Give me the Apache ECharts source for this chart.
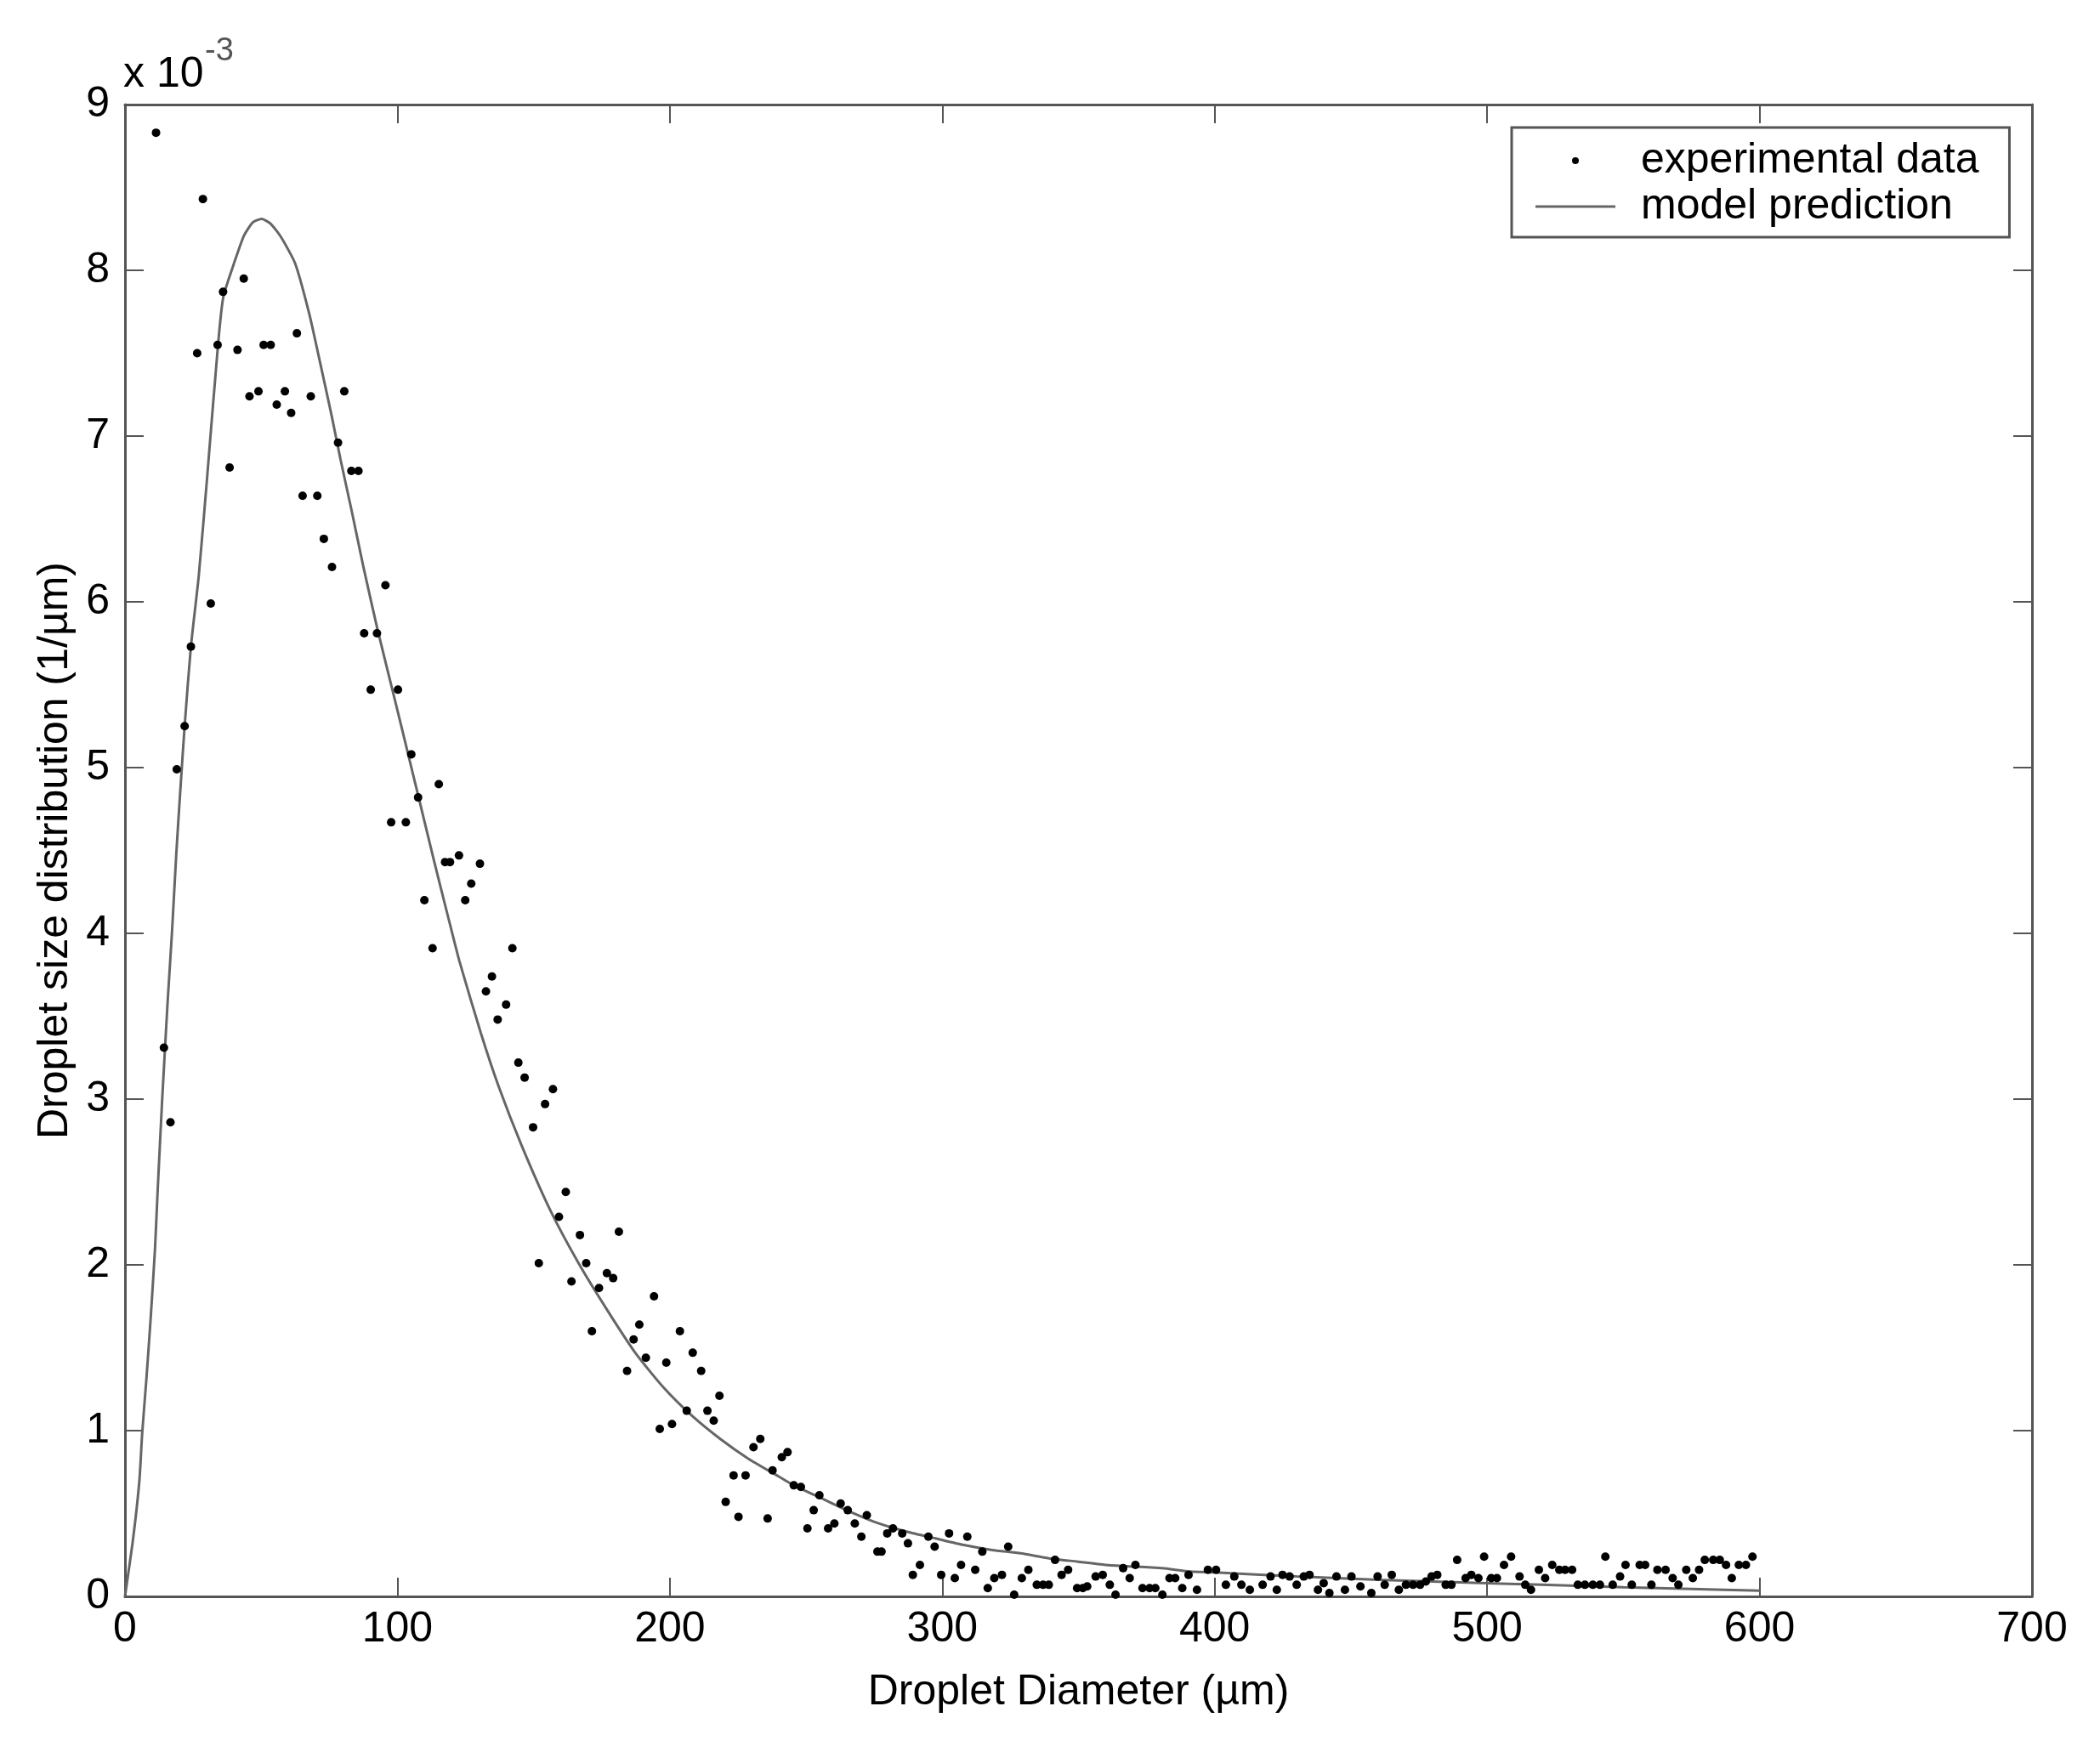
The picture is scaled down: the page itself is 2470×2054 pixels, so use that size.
<!DOCTYPE html>
<html>
<head>
<meta charset="utf-8">
<script src="https://cdn.jsdelivr.net/npm/echarts/dist/echarts.min.js"></script>
<style>
  html, body { margin: 0; padding: 0; background: #fff; }
  #chart { width: 2470px; height: 2054px; }
</style>
</head>
<body>
<div id="chart"></div>
<script>
// experimental data (diameter in µm, distribution in units of 1e-3 1/µm)
const expX = [
  11.4, 14.3, 16.7, 19.0, 21.9, 24.2, 26.5, 28.6, 31.5, 34.0, 36.0, 38.4, 41.3, 43.6, 45.7, 49.0,
  50.9, 53.5, 55.7, 58.7, 61.0, 63.1, 65.2, 68.2, 70.6, 73.0, 76.0, 78.2, 80.5, 83.1, 85.7, 87.8,
  90.2, 92.5, 95.6, 97.7, 100.2, 103.1, 105.1, 107.6, 109.9, 112.9, 115.2, 117.5, 119.3, 122.6, 124.9, 127.1,
  130.3, 132.5, 134.7, 136.8, 139.9, 142.2, 144.4, 146.7, 149.8, 151.9, 154.2, 157.1, 159.3, 161.8, 163.9, 167.0,
  169.3, 171.4, 174.0, 176.9, 179.2, 181.3, 184.3, 186.7, 188.8, 191.2, 194.2, 196.3, 198.7, 200.8, 203.7, 206.2,
  208.4, 211.5, 213.8, 216.1, 218.2, 220.5, 223.4, 225.2, 227.8, 230.7, 233.2, 235.9, 237.7, 241.1, 243.2, 245.5,
  248.1, 250.5, 252.8, 254.9, 258.1, 260.4, 262.7, 265.3, 267.9, 270.3, 272.3, 276.2, 277.7, 279.8, 281.9, 285.3,
  287.4, 289.2, 291.8, 294.9, 297.2, 299.6, 302.5, 304.6, 306.9, 309.2, 312.1, 314.7, 316.7, 319.1, 321.9, 324.2,
  326.4, 329.2, 331.6, 334.7, 337.0, 339.1, 341.4, 343.8, 346.2, 349.5, 351.6, 353.2, 356.3, 358.9, 361.5, 363.6,
  366.4, 368.8, 370.9, 373.5, 376.1, 378.2, 380.8, 383.4, 385.5, 388.1, 390.4, 393.5, 397.5, 400.5, 404.1, 407.2,
  409.8, 412.9, 417.6, 420.5, 422.8, 424.9, 427.5, 430.1, 432.7, 434.8, 437.9, 440.0, 442.1, 444.7, 447.8, 450.2,
  453.5, 457.5, 459.8, 462.4, 465.0, 467.6, 470.2, 472.8, 475.4, 477.5, 479.6, 481.7, 484.8, 486.9, 489.0, 492.1,
  494.2, 496.8, 498.9, 501.5, 503.6, 506.2, 508.8, 511.9, 514.0, 516.1, 519.0, 521.3, 523.9, 526.5, 528.6, 531.2,
  533.3, 535.9, 538.8, 541.4, 543.4, 546.1, 548.8, 550.8, 553.1, 556.0, 558.0, 560.3, 562.5, 565.5, 568.1, 570.2,
  573.1, 575.5, 577.8, 579.9, 583.0, 585.4, 587.7, 589.8, 592.4, 595.0, 597.4
];
const expY = [
  8.83, 3.31, 2.86, 4.99, 5.25, 5.73, 7.50, 8.43, 5.99, 7.55, 7.87, 6.81, 7.52, 7.95, 7.24, 7.27,
  7.55, 7.55, 7.19, 7.27, 7.14, 7.62, 6.64, 7.24, 6.64, 6.38, 6.21, 6.96, 7.27, 6.79, 6.79, 5.81,
  5.47, 5.81, 6.10, 4.67, 5.47, 4.67, 5.08, 4.82, 4.20, 3.91, 4.90, 4.43, 4.43, 4.47, 4.20, 4.30,
  4.42, 3.65, 3.74, 3.48, 3.57, 3.91, 3.22, 3.13, 2.83, 2.01, 2.97, 3.06, 2.29, 2.44, 1.90, 2.18,
  2.01, 1.60, 1.86, 1.95, 1.92, 2.20, 1.36, 1.55, 1.64, 1.44, 1.81, 1.01, 1.41, 1.04, 1.60, 1.12,
  1.47, 1.36, 1.12, 1.06, 1.21, 0.57, 0.73, 0.48, 0.73, 0.90, 0.95, 0.47, 0.76, 0.84, 0.87, 0.67,
  0.66, 0.41, 0.52, 0.61, 0.41, 0.44, 0.56, 0.52, 0.44, 0.36, 0.49, 0.27, 0.27, 0.38, 0.41, 0.38,
  0.32, 0.13, 0.19, 0.36, 0.30, 0.13, 0.38, 0.11, 0.19, 0.36, 0.16, 0.27, 0.05, 0.11, 0.13, 0.30,
  0.01, 0.11, 0.16, 0.07, 0.07, 0.07, 0.22, 0.13, 0.16, 0.05, 0.05, 0.06, 0.12, 0.13, 0.07, 0.01,
  0.17, 0.11, 0.19, 0.05, 0.05, 0.05, 0.01, 0.11, 0.11, 0.05, 0.13, 0.04, 0.16, 0.16, 0.07, 0.12,
  0.07, 0.04, 0.07, 0.12, 0.04, 0.13, 0.12, 0.07, 0.12, 0.13, 0.04, 0.08, 0.02, 0.12, 0.04, 0.12,
  0.06, 0.02, 0.12, 0.07, 0.13, 0.04, 0.07, 0.07, 0.07, 0.09, 0.12, 0.13, 0.07, 0.07, 0.22, 0.11,
  0.13, 0.11, 0.24, 0.11, 0.11, 0.19, 0.24, 0.12, 0.07, 0.04, 0.16, 0.11, 0.19, 0.16, 0.16, 0.16,
  0.07, 0.07, 0.07, 0.07, 0.24, 0.07, 0.12, 0.19, 0.07, 0.19, 0.19, 0.07, 0.16, 0.16, 0.11, 0.07,
  0.16, 0.11, 0.16, 0.22, 0.22, 0.22, 0.19, 0.11, 0.19, 0.19, 0.24
];

// model prediction curve
const modelX = [
  0, 3, 5.3, 6.3, 7.9, 9.4, 11.0, 12.0, 13.6, 15.7, 17.2, 18.8, 20.3, 21.9, 24.2, 27.1,
  30.2, 34.1, 36.1, 40.6, 43.7, 47.0, 50.2, 53.5, 57.3, 62.5, 67.6, 71.8, 75.9, 79.1, 83.2, 87.4,
  92.6, 98.9, 104.1, 107.5, 113.4, 118.6, 122.8, 130.6, 137.3, 145.6, 156.1, 166.5, 176.9, 187.3, 197.7,
  208.1, 218.5, 228.9, 239.3, 245.5, 255.9, 266.3, 276.7, 287.1, 297.5, 307.9, 318.3, 328.7, 339.1, 349.5, 359.9,
  370.3, 380.7, 391.1, 400, 430, 460, 490, 520, 550, 575, 600
];
const modelY = [
  0, 0.35, 0.70, 0.98, 1.32, 1.67, 2.09, 2.45, 2.98, 3.60, 3.99, 4.47, 4.86, 5.25, 5.73, 6.16,
  6.76, 7.54, 7.84, 8.07, 8.21, 8.29, 8.31, 8.28, 8.20, 8.04, 7.74, 7.43, 7.12, 6.86, 6.55, 6.22,
  5.84, 5.42, 5.07, 4.84, 4.44, 4.10, 3.83, 3.40, 3.07, 2.72, 2.33, 2.01, 1.73, 1.47, 1.26,
  1.09, 0.95, 0.83, 0.73, 0.67, 0.59, 0.51, 0.44, 0.39, 0.35, 0.31, 0.28, 0.26, 0.23, 0.21, 0.19,
  0.18, 0.17, 0.15, 0.145, 0.12, 0.10, 0.085, 0.07, 0.055, 0.045, 0.035
];

const xTicks = [0, 100, 200, 300, 400, 500, 600, 700];
const yTicks = [0, 1, 2, 3, 4, 5, 6, 7, 8, 9];

const FONT = '"Liberation Sans", Arial, sans-serif';
const AXIS_COLOR = '#555';
const MODEL_COLOR = '#666';

const chart = echarts.init(document.getElementById('chart'));

const tickStyle = { show: true, inside: true, length: 22, lineStyle: { color: AXIS_COLOR, width: 2 } };
const lineStyle = { show: true, onZero: false, lineStyle: { color: AXIS_COLOR, width: 3 } };

const option = {
  animation: false,
  backgroundColor: '#fff',
  textStyle: { fontFamily: FONT },
  grid: { left: 147, right: 80, top: 123, bottom: 176, containLabel: false },
  xAxis: [
    {
      type: 'value',
      min: xTicks[0],
      max: xTicks[xTicks.length - 1],
      interval: xTicks[1] - xTicks[0],
      position: 'bottom',
      axisLine: lineStyle,
      axisTick: tickStyle,
      splitLine: { show: false },
      axisLabel: { fontSize: 50, color: '#000', margin: 14, fontFamily: FONT },
      name: 'Droplet Diameter (µm)',
      nameLocation: 'middle',
      nameGap: 88,
      nameTextStyle: { fontSize: 50, color: '#000', fontFamily: FONT },
    },
    {
      type: 'value',
      min: xTicks[0],
      max: xTicks[xTicks.length - 1],
      interval: xTicks[1] - xTicks[0],
      position: 'top',
      axisLine: lineStyle,
      axisTick: tickStyle,
      splitLine: { show: false },
      axisLabel: { show: false },
    },
  ],
  yAxis: [
    {
      type: 'value',
      min: yTicks[0],
      max: yTicks[yTicks.length - 1],
      interval: 1,
      position: 'left',
      axisLine: lineStyle,
      axisTick: tickStyle,
      splitLine: { show: false },
      axisLabel: { fontSize: 50, color: '#000', margin: 18, fontFamily: FONT },
      name: 'Droplet size distribution (1/µm)',
      nameLocation: 'middle',
      nameGap: 55,
      nameRotate: 90,
      nameTextStyle: { fontSize: 50, color: '#000', fontFamily: FONT },
    },
    {
      type: 'value',
      min: yTicks[0],
      max: yTicks[yTicks.length - 1],
      interval: 1,
      position: 'right',
      axisLine: lineStyle,
      axisTick: tickStyle,
      splitLine: { show: false },
      axisLabel: { show: false },
    },
  ],
  legend: {
    orient: 'vertical',
    left: 1778,
    top: 150,
    padding: [14, 36, 11, 28],
    backgroundColor: '#fff',
    borderColor: AXIS_COLOR,
    borderWidth: 3,
    borderRadius: 0,
    itemWidth: 94,
    itemHeight: 8,
    itemGap: 4,
    textStyle: { fontSize: 50, color: '#000', lineHeight: 50, fontFamily: FONT, padding: [0, 0, 0, 25] },
    data: [
      { name: 'experimental data', icon: 'circle' },
      {
        name: 'model prediction',
        icon: 'path://M0,0 L94,0 L94,3 L0,3 Z',
        itemStyle: { color: MODEL_COLOR },
      },
    ],
  },
  graphic: [
    {
      type: 'text',
      left: 145,
      top: 63,
      style: { text: 'x 10', fontSize: 50, fill: '#000', fontFamily: FONT },
    },
    {
      type: 'text',
      left: 241,
      top: 42,
      style: { text: '-3', fontSize: 38, fill: '#555', fontFamily: FONT },
    },
  ],
  series: [
    {
      name: 'experimental data',
      type: 'scatter',
      symbol: 'circle',
      symbolSize: 10,
      itemStyle: { color: '#000', opacity: 1 },
      data: expX.map((x, i) => [x, expY[i]]),
      z: 3,
    },
    {
      name: 'model prediction',
      type: 'line',
      symbol: 'none',
      smooth: 0.2,
      lineStyle: { color: MODEL_COLOR, width: 3 },
      itemStyle: { color: MODEL_COLOR },
      data: modelX.map((x, i) => [x, modelY[i]]),
      z: 2,
    },
  ],
};

chart.setOption(option);
</script>
</body>
</html>
